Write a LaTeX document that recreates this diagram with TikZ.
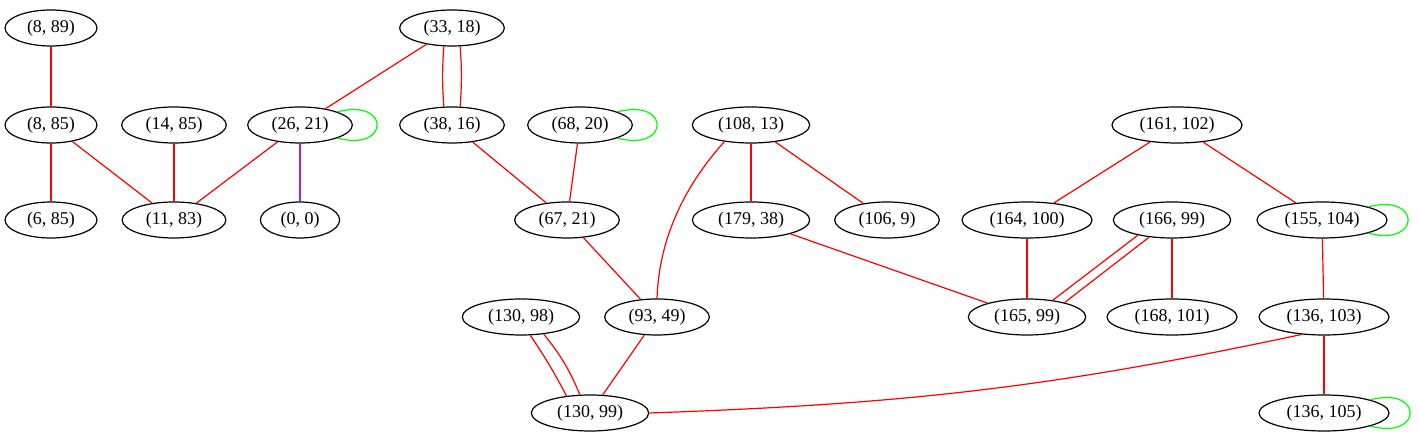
\documentclass[tikz,border=0pt]{standalone}
\usepackage{fontspec}
\setmainfont{Liberation Serif}
\usetikzlibrary{shapes.geometric}
\definecolor{gvred}{HTML}{FF0000}
\definecolor{gvgreen}{HTML}{00FF00}
\definecolor{gvpurple}{HTML}{A020F0}
\begin{document}
\begin{tikzpicture}[x=1pt, y=1pt, line width=1.2pt,
    pt/.style={ellipse, draw, inner xsep=8.5pt, inner ysep=1pt, minimum height=36pt, font=\fontsize{18}{20}\selectfont},
    link/.style={draw=gvred},
    loopedge/.style={draw=gvgreen}]
    \useasboundingbox (0,0) rectangle (1419,443);

    % row 1
    \node[pt] (p8-89) at (51,415) {(8, 89)};
    \node[pt] (p33-18) at (452,415) {(33, 18)};
    % row 2
    \node[pt] (p8-85) at (51,318) {(8, 85)};
    \node[pt] (p14-85) at (174,318) {(14, 85)};
    \node[pt] (p26-21) at (300,318) {(26, 21)};
    \node[pt] (p38-16) at (452,318) {(38, 16)};
    \node[pt] (p68-20) at (580,318) {(68, 20)};
    \node[pt] (p108-13) at (751,318) {(108, 13)};
    \node[pt] (p161-102) at (1177,318) {(161, 102)};
    % row 3
    \node[pt] (p6-85) at (51,223) {(6, 85)};
    \node[pt] (p11-83) at (174,223) {(11, 83)};
    \node[pt] (p0-0) at (300,223) {(0, 0)};
    \node[pt] (p67-21) at (567,223) {(67, 21)};
    \node[pt] (p179-38) at (751,223) {(179, 38)};
    \node[pt] (p106-9) at (887,223) {(106, 9)};
    \node[pt] (p164-100) at (1027,223) {(164, 100)};
    \node[pt] (p166-99) at (1172,223) {(166, 99)};
    \node[pt] (p155-104) at (1322,223) {(155, 104)};
    % row 4
    \node[pt] (p130-98) at (521,126) {(130, 98)};
    \node[pt] (p93-49) at (657,126) {(93, 49)};
    \node[pt] (p165-99) at (1027,126) {(165, 99)};
    \node[pt] (p168-101) at (1172,126) {(168, 101)};
    \node[pt] (p136-103) at (1324,126) {(136, 103)};
    % row 5
    \node[pt] (p130-99) at (590,30) {(130, 99)};
    \node[pt] (p136-105) at (1324,30) {(136, 105)};

    % edges
    \draw[link] (p8-89) -- (p8-85);
    \draw[link] (p33-18) -- (p26-21);
    \draw[link] (p33-18.246) to[bend right=4] (p38-16.114);
    \draw[link] (p33-18.294) to[bend left=4] (p38-16.66);
    \draw[link] (p8-85) -- (p6-85);
    \draw[link] (p8-85) -- (p11-83);
    \draw[link] (p14-85) -- (p11-83);
    \draw[link] (p26-21) -- (p11-83);
    \draw[draw=gvpurple] (p26-21) -- (p0-0);
    \draw[link] (p38-16) -- (p67-21);
    \draw[link] (p68-20) -- (p67-21);
    \draw[link] (p108-13) -- (p179-38);
    \draw[link] (p108-13) -- (p106-9);
    \draw[link] (p108-13.212) to[out=228, in=88, looseness=0.9] (p93-49.north);
    \draw[link] (p161-102) -- (p164-100);
    \draw[link] (p161-102) -- (p155-104);
    \draw[link] (p67-21) -- (p93-49);
    \draw[link] (p179-38) -- (p165-99);
    \draw[link] (p164-100) -- (p165-99);
    \draw[link] (p166-99.204) -- (p165-99.33);
    \draw[link] (p166-99.217) -- (p165-99.21.5);
    \draw[link] (p166-99) -- (p168-101);
    \draw[link] (p155-104) -- (p136-103);
    \draw[link] (p130-98.297) to[bend left=3] (p130-99.144);
    \draw[link] (p130-98.323) to[bend left=8] (p130-99.119.5);
    \draw[link] (p93-49) -- (p130-99);
    \draw[link] (p136-103.218) to[out=192, in=2] (p130-99.east);
    \draw[link] (p136-103) -- (p136-105);

    % self loops
    \draw[loopedge] (p26-21.north east) .. controls +(53,14) and +(53,-14) .. (p26-21.south east);
    \draw[loopedge] (p68-20.north east) .. controls +(53,14) and +(53,-14) .. (p68-20.south east);
    \draw[loopedge] (p155-104.north east) .. controls +(53,14) and +(53,-14) .. (p155-104.south east);
    \draw[loopedge] (p136-105.north east) .. controls +(53,14) and +(53,-14) .. (p136-105.south east);
\end{tikzpicture}
\end{document}
